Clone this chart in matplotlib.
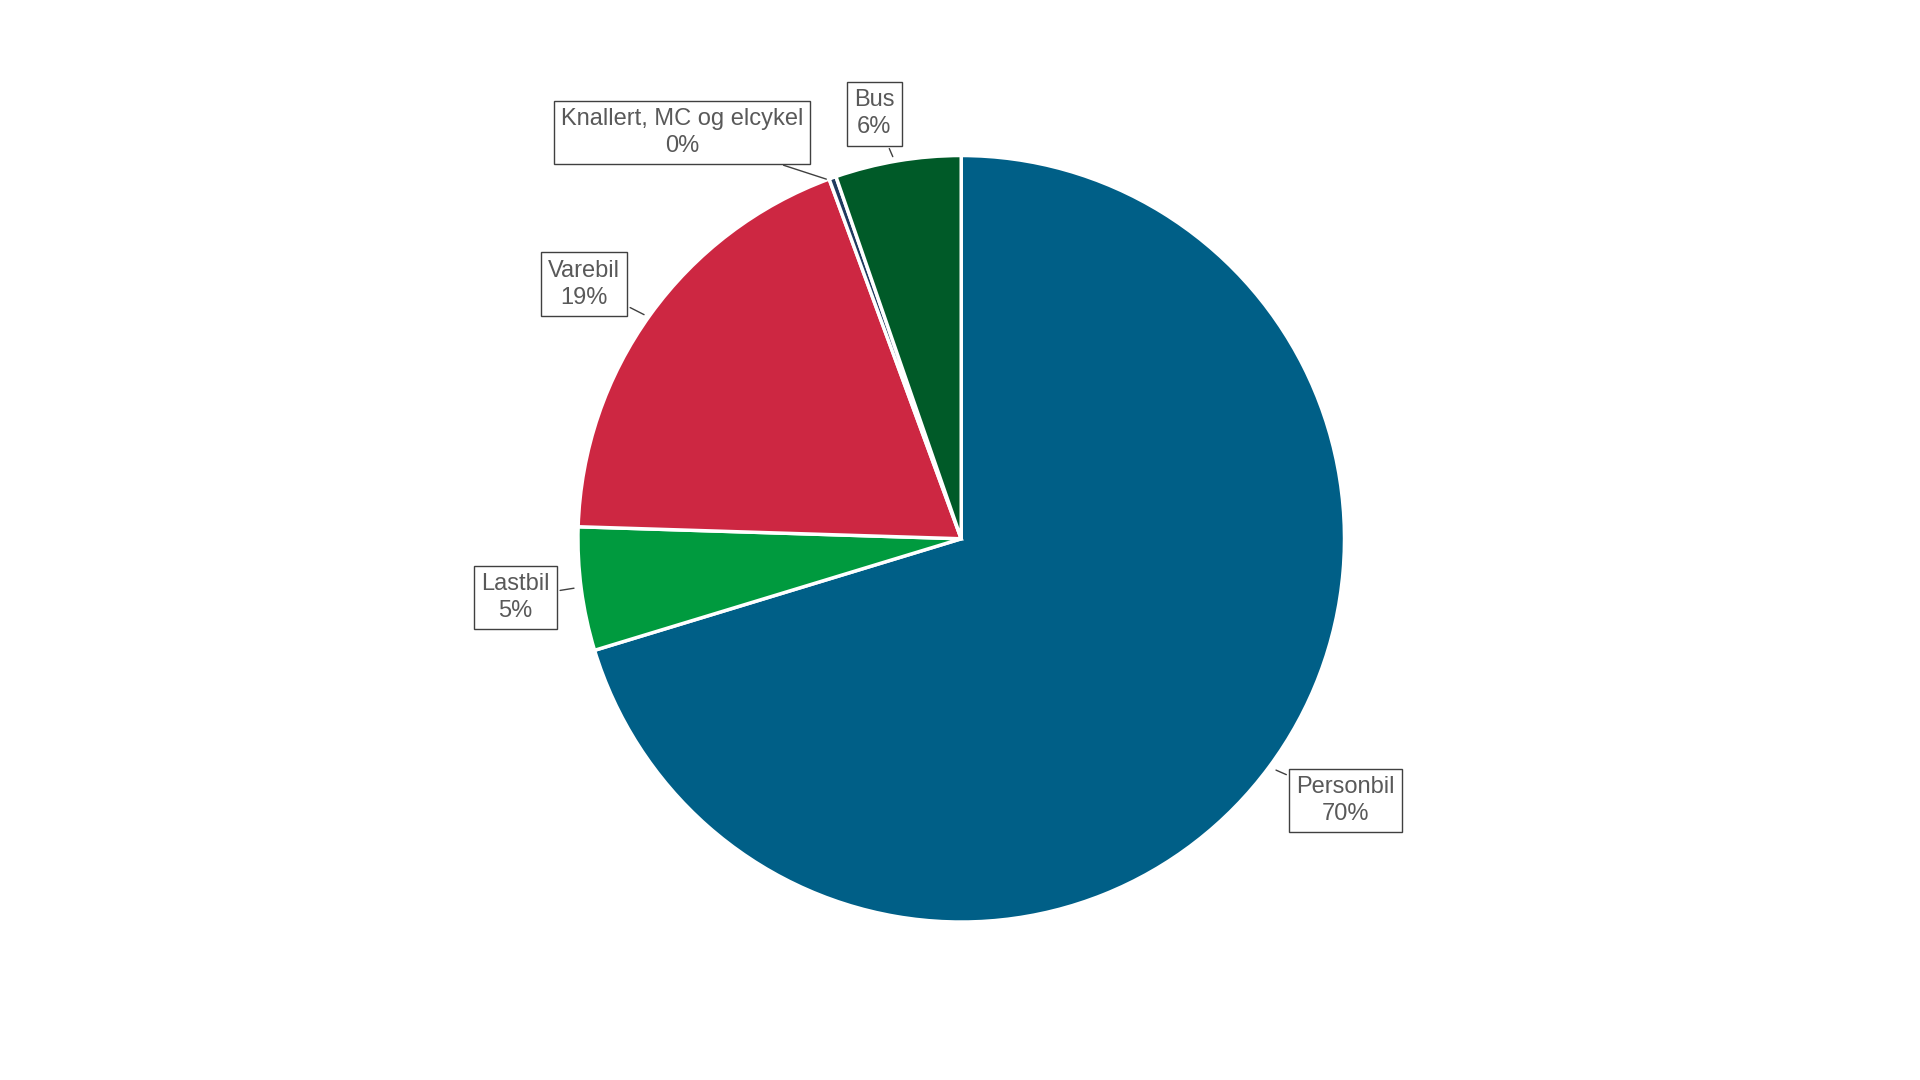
import matplotlib.pyplot as plt

# Andel pr. køretøjstype
labels = ['Personbil', 'Lastbil', 'Varebil', 'Knallert, MC og elcykel', 'Bus']
values = [70.3, 5.2, 18.9, 0.3, 5.3]
pct_text = ['70%', '5%', '19%', '0%', '6%']
colors = ['#005F87', '#009A3E', '#CD2742', '#1F3A5F', '#005A28']

# label positions (text, arrow tip) in reference pixel coords
text_pos = [(1099, 654), (421, 488), (477, 232), (557, 108), (714, 93)]
tip_pos = [(1040, 628), (471, 480), (528, 258), (677, 147), (730, 130)]

plt.rcParams['font.family'] = ['Liberation Sans', 'DejaVu Sans']

fig = plt.figure(figsize=(19.2, 10.8), dpi=100)
ax = fig.add_axes([0, 0, 1, 1])

# y axis is inverted below, so start at -90 and go counterclockwise
# to get the usual "top, clockwise" look on screen
ax.pie(values, colors=colors, startangle=-90, counterclock=True,
       center=(785, 440), radius=313,
       wedgeprops=dict(edgecolor='white', linewidth=2.5))
ax.set_xlim(0, 1568)
ax.set_ylim(882, 0)
ax.set_aspect('equal')
ax.axis('off')

for lab, p, tp, tip in zip(labels, pct_text, text_pos, tip_pos):
    ax.annotate(f'{lab}\n{p}', xy=tip, xytext=tp, ha='center', va='center',
                fontsize=17, color='#595959', linespacing=1.3,
                bbox=dict(boxstyle='square,pad=0.3', fc='white', ec='#404040', lw=1),
                arrowprops=dict(arrowstyle='-', color='#404040', lw=1))

fig.savefig('out.png', dpi=100)
